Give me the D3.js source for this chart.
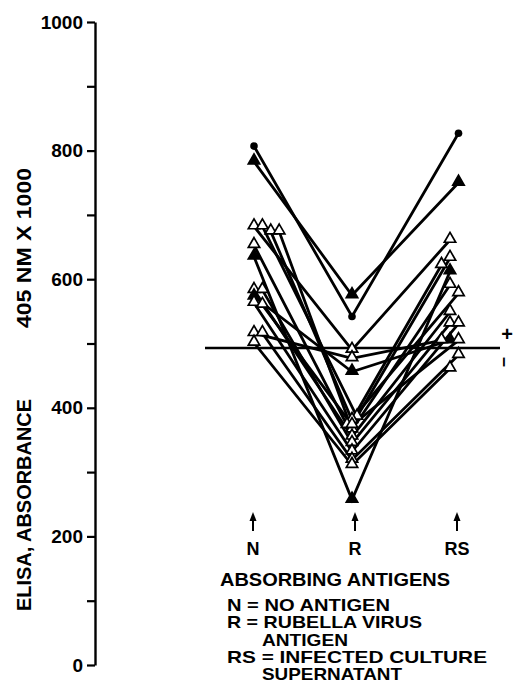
<!DOCTYPE html>
<html>
<head>
<meta charset="utf-8">
<script src="https://cdn.jsdelivr.net/npm/d3@7"></script>
<style>
  html, body { margin: 0; padding: 0; background: #fff; }
  svg { display: block; }
  text { font-family: "Liberation Sans", Arial, sans-serif; font-weight: bold; fill: #000; }
</style>
</head>
<body>
<svg id="chart" width="516" height="692"></svg>
<script>
// ---- data ----
const categories = ["N", "R", "RS"];
const yTickValues = [0, 100, 200, 300, 400, 500, 600, 700, 800, 900, 1000];
const yTickLabels = ["0", "", "200", "", "400", "", "600", "", "800", "", "1000"];
const cutoff = 493;

// one entry per serum: absorbance after absorbing with N, R, RS
const nValues  = [807, 783, 682, 682, 674, 674, 653, 635, 583, 583, 573, 563, 560, 516, 516, 501];
const rValues  = [542, 575, 490, 386, 381, 366, 373, 257, 355, 345, 456, 332, 373, 477, 319, 311];
const rsValues = [827, 750, 661, 633, 622, 591, 578, 612, 549, 531, 505, 531, 505, 505, 482, 461];
const markers  = ["circle", "filled", "open", "open", "open", "open", "open", "filled",
                  "open", "open", "filled", "open", "open", "open", "open", "open"];
// side-by-side slot index of overlapping markers within a column
const nSlot  = [0, 0, 0, 1, 2, 3, 0, 0, 0, 1, 0, 0, 1, 0, 1, 0];
const rSlot  = [0, 0, 0, 1, 0, 0, -1, 0, 0, 0, 0, 0, 0, 0, 0, 0];
const rsSlot = [1, 1, 0, 0, -1, 0, 1, 0, 0, 0, 0, 1, 1, -1, 1, 0];

const legendLines = ["N = NO ANTIGEN", "R = RUBELLA VIRUS", "ANTIGEN", "RS = INFECTED CULTURE", "SUPERNATANT"];

// ---- drawing ----
const svg = d3.select("#chart");

const y = d3.scaleLinear().domain([0, 1000]).range([665, 22]);
const x = d3.scalePoint().domain(categories).range([254, 450]);
const xLab = d3.scalePoint().domain(categories).range([253, 457]);
const slotStep = { N: 8.4, R: 5, RS: 8.5 };

// y axis
const axis = d3.axisLeft(y)
  .tickValues(yTickValues)
  .tickFormat((d, i) => yTickLabels[i])
  .tickSize(8)
  .tickSizeOuter(0)
  .tickPadding(4);
const gAxis = svg.append("g").attr("transform", "translate(95,0)").call(axis);
gAxis.select(".domain").attr("stroke", "#000").attr("stroke-width", 2.4);
gAxis.selectAll(".tick line").attr("stroke", "#000").attr("stroke-width", 2.2);
gAxis.selectAll(".tick text")
  .attr("font-size", 19)
  .attr("font-family", "Liberation Sans, Arial, sans-serif")
  .attr("font-weight", "bold")
  .attr("fill", "#000");

// axis title (rotated)
svg.append("text")
  .attr("transform", "translate(31,505) rotate(-90)")
  .attr("text-anchor", "middle")
  .attr("font-size", 20)
  .attr("textLength", 212)
  .attr("lengthAdjust", "spacingAndGlyphs")
  .text("ELISA, ABSORBANCE");
svg.append("text")
  .attr("transform", "translate(31,248) rotate(-90)")
  .attr("text-anchor", "middle")
  .attr("font-size", 20)
  .attr("textLength", 160)
  .attr("lengthAdjust", "spacingAndGlyphs")
  .text("405 NM X 1000");

// cutoff line
svg.append("line")
  .attr("x1", 205).attr("x2", 500)
  .attr("y1", y(cutoff)).attr("y2", y(cutoff))
  .attr("stroke", "#000").attr("stroke-width", 2.4);
svg.append("text")
  .attr("x", 507).attr("y", y(cutoff) - 7)
  .attr("text-anchor", "middle")
  .attr("font-size", 20)
  .text("+");
svg.append("text")
  .attr("transform", `translate(505,${y(cutoff) + 14}) rotate(90)`)
  .attr("text-anchor", "middle")
  .attr("dy", "0.32em")
  .attr("font-size", 18)
  .text("\u2013");

// series
const series = nValues.map((v, i) => ({
  marker: markers[i],
  pts: [
    { cat: "N",  v: v,            slot: nSlot[i] },
    { cat: "R",  v: rValues[i],   slot: rSlot[i] },
    { cat: "RS", v: rsValues[i],  slot: rsSlot[i] }
  ]
}));
const px = p => x(p.cat) + p.slot * slotStep[p.cat];

const line = d3.line().x(px).y(p => y(p.v));
svg.append("g").selectAll("path")
  .data(series).join("path")
  .attr("d", s => line(s.pts))
  .attr("fill", "none")
  .attr("stroke", "#000")
  .attr("stroke-width", 2.8)
  .attr("stroke-linejoin", "miter");

const tri = d3.symbol().type(d3.symbolTriangle).size(56);
const gm = svg.append("g");
series.forEach(s => {
  s.pts.forEach(p => {
    if (s.marker === "circle") {
      gm.append("circle")
        .attr("cx", px(p)).attr("cy", y(p.v)).attr("r", 3.8)
        .attr("fill", "#000");
    } else {
      gm.append("path")
        .attr("d", tri())
        .attr("transform", `translate(${px(p)},${y(p.v) - 1})`)
        .attr("fill", s.marker === "filled" ? "#000" : "#fff")
        .attr("stroke", "#000")
        .attr("stroke-width", 1.7);
    }
  });
});

// arrows and category labels
categories.forEach(c => {
  const cx = xLab(c);
  svg.append("line")
    .attr("x1", cx).attr("x2", cx).attr("y1", 531).attr("y2", 518)
    .attr("stroke", "#000").attr("stroke-width", 2);
  svg.append("path")
    .attr("d", `M${cx - 3.5},${521} L${cx},${512} L${cx + 3.5},${521} Z`)
    .attr("fill", "#000");
  svg.append("text")
    .attr("x", cx).attr("y", 555)
    .attr("text-anchor", "middle")
    .attr("font-size", 18)
    .text(c);
});

svg.append("text")
  .attr("x", 220).attr("y", 586)
  .attr("font-size", 18)
  .attr("textLength", 230)
  .attr("lengthAdjust", "spacingAndGlyphs")
  .text("ABSORBING  ANTIGENS");

const legendX = [227, 227, 262, 227, 262];
const legendW = [163, 195, 86, 260, 140];
svg.append("g").selectAll("text")
  .data(legendLines).join("text")
  .attr("x", (d, i) => legendX[i])
  .attr("y", (d, i) => 611 + i * 17.3)
  .attr("font-size", 17)
  .attr("textLength", (d, i) => legendW[i])
  .attr("lengthAdjust", "spacingAndGlyphs")
  .text(d => d);
</script>
</body>
</html>
